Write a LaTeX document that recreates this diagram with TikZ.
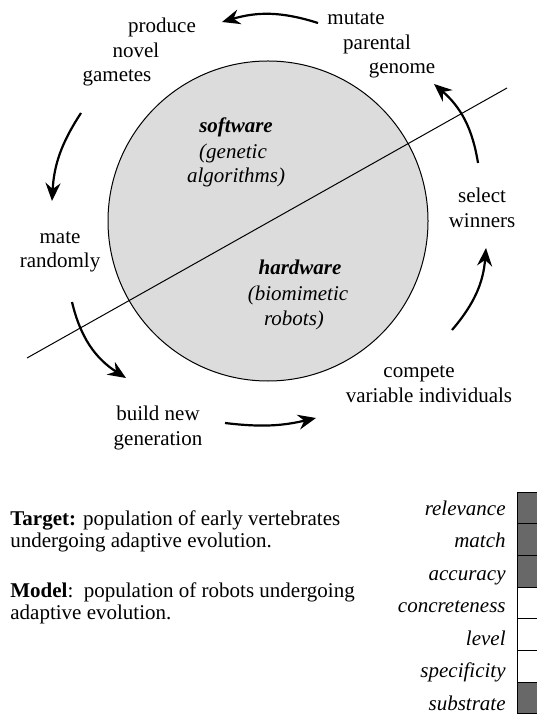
\documentclass[tikz,border=0pt]{standalone}
\usepackage{fontspec}
\setmainfont{Liberation Serif}
\usetikzlibrary{arrows.meta}
\definecolor{circgray}{HTML}{DCDCDC}
\definecolor{cellgray}{HTML}{686868}
\tikzset{
  lbl/.style={font=\fontsize{10.5}{12.5}\selectfont, inner sep=0pt, anchor=base},
  itlbl/.style={lbl, font=\fontsize{10.5}{12.5}\selectfont\itshape},
  cyc/.style={line width=1.1pt, -{Stealth[length=9pt,width=7.5pt,inset=3pt]}, bend right=#1},
  prop/.style={itlbl, anchor=base east},
  cell/.style={draw, line width=0.5pt, fill=#1}
}
\begin{document}
\begin{tikzpicture}[x=0.5pt,y=-0.5pt]
\useasboundingbox (0,0) rectangle (536,715);

% Circle and dividing line
\draw[fill=circgray, line width=0.5pt] (268,221) circle[radius=160];
\draw[line width=0.5pt] (27,358) -- (507,88);

% Inside the circle
\node[lbl, font=\fontsize{10.5}{12.5}\selectfont\bfseries\itshape] (soft) at (236,133) {software};
\node[itlbl] (softA) at (233,159) {(genetic};
\node[itlbl] (softB) at (236,183) {algorithms)};
\node[lbl, font=\fontsize{10.5}{12.5}\selectfont\bfseries\itshape] (hard) at (300,275) {hardware};
\node[itlbl] (hardA) at (298,300) {(biomimetic};
\node[itlbl] (hardB) at (294,325) {robots)};

% Cycle labels
\node[lbl] (mutate) at (356,25) {mutate};
\node[lbl] (parental) at (377,50) {parental};
\node[lbl] (genome) at (402,74) {genome};
\node[lbl] (produce) at (162,33) {produce};
\node[lbl] (novel) at (136,58) {novel};
\node[lbl] (gametes) at (117,82) {gametes};
\node[lbl] (mate) at (60,244) {mate};
\node[lbl] (randomly) at (60,268) {randomly};
\node[lbl] (build) at (158,420) {build new};
\node[lbl] (generation) at (158,445) {generation};
\node[lbl] (compete) at (419,377) {compete};
\node[lbl] (variable) at (429,402) {variable individuals};
\node[lbl] (select) at (482,203) {select};
\node[lbl] (winners) at (482,228) {winners};

% Arrow ends
\coordinate (a1) at (318,23);  \coordinate (b1) at (222,22);
\coordinate (a2) at (81,113);  \coordinate (b2) at (52,201);
\coordinate (a3) at (72,302);  \coordinate (b3) at (126,378);
\coordinate (a4) at (225,423); \coordinate (b4) at (316,418);
\coordinate (a5) at (452,330); \coordinate (b5) at (486,248);
\coordinate (a6) at (478,163); \coordinate (b6) at (434,84);

% Cycle arrows
\draw[cyc=17] (a1) to (b1);
\draw[cyc=15] (a2) to (b2);
\draw[cyc=22] (a3) to (b3);
\draw[cyc=10] (a4) to (b4);
\draw[cyc=18] (a5) to (b5);
\draw[cyc=20] (a6) to (b6);

% Target and model
\node[lbl, anchor=base west] (target) at (10,525) {\textbf{Target:} population of early vertebrates};
\node[lbl, anchor=base west] (targetB) at (10,547) {undergoing adaptive evolution.};
\node[lbl, anchor=base west] (model) at (10,597) {\textbf{Model}:\ \ population of robots undergoing};
\node[lbl, anchor=base west] (modelB) at (10,619) {adaptive evolution.};

% Similarity profile
\foreach \name/\shade [count=\i] in {relevance/cellgray, match/cellgray, accuracy/cellgray,
    concreteness/white, level/white, specificity/white, substrate/cellgray} {
  \pgfmathsetmacro\top{492+(\i-1)*31.7}
  \pgfmathsetmacro\base{515+(\i-1)*32.5}
  \draw[cell=\shade] (517,\top) rectangle (548,\top+31.7);
  \node[prop] (\name) at (506,\base) {\name};
}
\end{tikzpicture}
\end{document}
